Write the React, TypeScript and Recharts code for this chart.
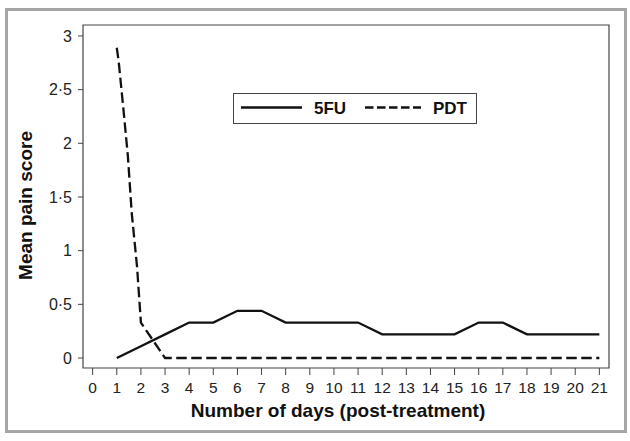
import React from 'react';
import { LineChart, Line, XAxis, YAxis, ReferenceArea, Legend, Label } from 'recharts';

const days = [1, 2, 3, 4, 5, 6, 7, 8, 9, 10, 11, 12, 13, 14, 15, 16, 17, 18, 19, 20, 21];
const fiveFU = [0, 0.11, 0.22, 0.33, 0.33, 0.44, 0.44, 0.33, 0.33, 0.33, 0.33, 0.22, 0.22, 0.22, 0.22, 0.33, 0.33, 0.22, 0.22, 0.22, 0.22];

const pdtDays = [1, 1.08, 1.3, 1.46, 1.62, 1.84, 2, 3, 4, 5, 6, 7, 8, 9, 10, 11, 12, 13, 14, 15, 16, 17, 18, 19, 20, 21];
const pdt = [2.89, 2.76, 2.26, 1.88, 1.35, 0.85, 0.33, 0, 0, 0, 0, 0, 0, 0, 0, 0, 0, 0, 0, 0, 0, 0, 0, 0, 0, 0];

const xTicks = [0, 1, 2, 3, 4, 5, 6, 7, 8, 9, 10, 11, 12, 13, 14, 15, 16, 17, 18, 19, 20, 21];
const yTicks = [0, 0.5, 1, 1.5, 2, 2.5, 3];

const xDomain: [number, number] = [-0.4, 21.4];
const yDomain: [number, number] = [-0.093, 3.102];

const fiveFUData = days.map((d, i) => ({ day: d, value: fiveFU[i] }));
const pdtData = pdtDays.map((d, i) => ({ day: d, value: pdt[i] }));

const FONT = 'Liberation Sans, Arial, Helvetica, sans-serif';
const AXIS = '#444';
const DASH = '10.5 4.5';

const LegendBox = () => (
  <div
    style={{
      position: 'relative',
      width: 244,
      height: 31,
      border: '1px solid #444',
      boxSizing: 'border-box',
      fontFamily: FONT,
      fontWeight: 'bold',
      fontSize: 17,
      color: '#111',
      background: '#fff',
    }}
  >
    <svg width={244} height={31} style={{ position: 'absolute', left: 0, top: 0 }}>
      <line x1={7} x2={68} y1={13.5} y2={13.5} stroke="#111" strokeWidth={2.3} />
      <line x1={131} x2={187} y1={13.5} y2={13.5} stroke="#111" strokeWidth={2.3} strokeDasharray="8.5 3.5" />
      <text x={80} y={19.5} fontFamily={FONT} fontWeight="bold" fontSize={17} fill="#111">5FU</text>
      <text x={199} y={19.5} fontFamily={FONT} fontWeight="bold" fontSize={17} fill="#111">PDT</text>
    </svg>
  </div>
);

const fmt = (v: number) => String(v).replace('.', '\u00B7');

export default function App() {
  return (
    <div style={{ position: 'absolute', left: 0, top: 0, width: 630, height: 441, background: '#fff' }}>
      <div
        style={{
          position: 'absolute',
          left: 5,
          top: 8,
          width: 622,
          height: 425,
          border: '3px solid #a6a6a6',
          boxSizing: 'border-box',
        }}
      />
      <LineChart
        width={630}
        height={441}
        margin={{ top: 25, right: 21, left: 0, bottom: 0 }}
        style={{ position: 'absolute', left: 0, top: 0 }}
      >
        <XAxis
          type="number"
          dataKey="day"
          domain={xDomain}
          ticks={xTicks}
          interval={0}
          height={73}
          axisLine={false}
          tickSize={7}
          tickMargin={7}
          tickLine={{ stroke: AXIS }}
          tick={{ fill: '#222', fontSize: 15.5, fontFamily: FONT }}
          allowDecimals={false}
        >
          <Label
            content={(props: any) => {
              const vb = props.viewBox;
              return (
                <text
                  x={vb.x + vb.width / 2 - 8}
                  y={vb.y + 49}
                  textAnchor="middle"
                  fontFamily={FONT}
                  fontWeight="bold"
                  fontSize={19}
                  fill="#111"
                >
                  Number of days (post-treatment)
                </text>
              );
            }}
          />
        </XAxis>
        <YAxis
          type="number"
          domain={yDomain}
          ticks={yTicks}
          interval={0}
          width={83}
          axisLine={false}
          tickSize={5}
          tickMargin={6}
          tickLine={{ stroke: AXIS }}
          tickFormatter={fmt}
          tick={{ fill: '#222', fontSize: 16, fontFamily: FONT }}
        >
          <Label
            content={(props: any) => {
              const vb = props.viewBox;
              const px = 32;
              const py = vb.y + vb.height / 2 + 9;
              return (
                <text
                  x={px}
                  y={py}
                  transform={`rotate(-90, ${px}, ${py})`}
                  textAnchor="middle"
                  fontFamily={FONT}
                  fontWeight="bold"
                  fontSize={19}
                  fill="#111"
                >
                  Mean pain score
                </text>
              );
            }}
          />
        </YAxis>
        <ReferenceArea
          x1={xDomain[0]}
          x2={xDomain[1]}
          y1={yDomain[0]}
          y2={yDomain[1]}
          fill="none"
          fillOpacity={0}
          stroke={AXIS}
          strokeWidth={1.2}
        />
        <Legend
          layout="horizontal"
          verticalAlign="middle"
          align="center"
          wrapperStyle={{ position: 'absolute', left: 233, top: 93, width: 244, height: 31 }}
          content={() => <LegendBox />}
        />
        <Line
          data={fiveFUData}
          dataKey="value"
          name="5FU"
          stroke="#111"
          strokeWidth={2.3}
          dot={false}
          activeDot={false}
          isAnimationActive={false}
          type="linear"
        />
        <Line
          data={pdtData}
          dataKey="value"
          name="PDT"
          stroke="#111"
          strokeWidth={2.3}
          strokeDasharray={DASH}
          dot={false}
          activeDot={false}
          isAnimationActive={false}
          type="linear"
        />
      </LineChart>
    </div>
  );
}
